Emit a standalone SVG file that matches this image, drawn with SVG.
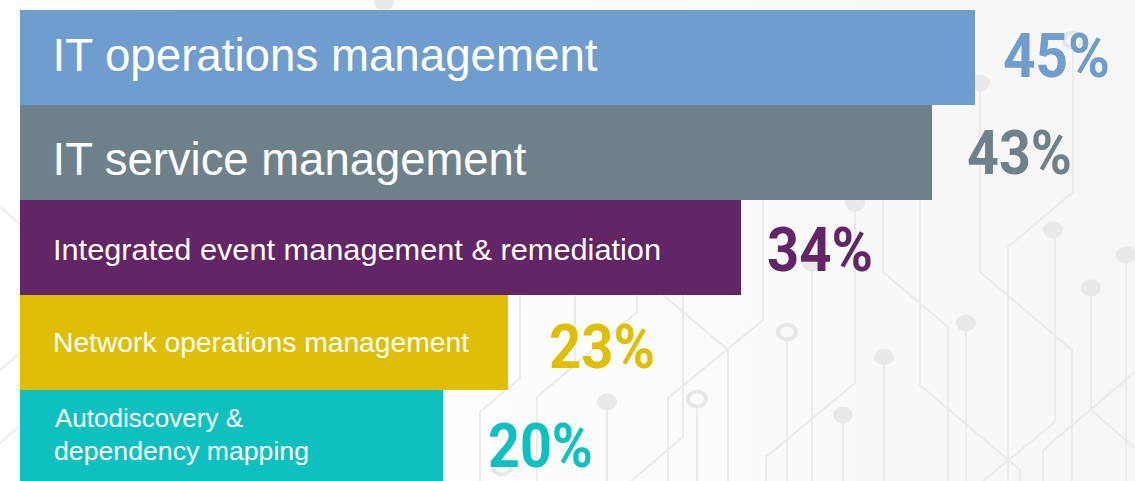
<svg xmlns="http://www.w3.org/2000/svg" width="1135" height="481" viewBox="0 0 1135 481">
  <defs>
    <linearGradient id="bgGrad" x1="0" y1="0" x2="1" y2="0">
      <stop offset="0" stop-color="#FFFFFF"/>
      <stop offset="0.5" stop-color="#FCFCFC"/>
      <stop offset="1" stop-color="#F6F6F6"/>
    </linearGradient>
  </defs>
  <style>
    .trace { fill: none; stroke: #EBEBEB; stroke-width: 2; }
    .dot { fill: #E9E9E9; }
    .ring { fill: none; stroke: #E7E7E7; stroke-width: 4; }
    .label { font-family: "Liberation Sans", Arial, sans-serif; fill: #FFFFFF; }
    .pct { font-family: Roboto, "Liberation Sans", Arial, sans-serif; font-weight: bold; font-size: 61px; }
  </style>

  <rect id="background" x="0" y="0" width="1135" height="481" fill="url(#bgGrad)"/>

  <g id="circuit">
    <path class="trace" d="M0,207 L20,224"/>
    <path class="trace" d="M0,370 L20,353"/>
    <path class="trace" d="M0,443 L20,426"/>
    <path class="trace" d="M520,295 V378 L480,412 V481"/>
    <path class="trace" d="M637,295 V312 L575,365"/>
    <path class="trace" d="M575,295 V365 L537,397 V481"/>
    <path class="trace" d="M663,295 L728,350 V481"/>
    <path class="trace" d="M683,295 V437 L631,481"/>
    <path class="trace" d="M763,200 V320 L668,398 V481"/>
    <path class="trace" d="M697,409 V481"/>
    <path class="trace" d="M607,410 V481"/>
    <path class="trace" d="M787,342 V481"/>
    <path class="trace" d="M812,270 V481"/>
    <path class="trace" d="M855,203 V383 L766,457 V481"/>
    <path class="trace" d="M843,423 V481"/>
    <path class="trace" d="M884,365 V481"/>
    <path class="trace" d="M883,200 V272 L948,327 V481"/>
    <path class="trace" d="M920,200 V385 L1020,470 V481"/>
    <path class="trace" d="M966,331 V481"/>
    <path class="trace" d="M980,91 V272 L1072,350 V481"/>
    <path class="trace" d="M1073,50 V192 L1008,247 V481"/>
    <path class="trace" d="M1055,238 V422 L983,481"/>
    <path class="trace" d="M1091,296 V410 L1135,448"/>
    <path class="trace" d="M1135,372 L1043,450 V481"/>
    <path class="trace" d="M1126,263 V481"/>
    <ellipse class="dot" cx="384" cy="2" rx="10" ry="8.5"/>
    <ellipse class="dot" cx="980" cy="83" rx="10" ry="8.5"/>
    <ellipse class="dot" cx="855" cy="203" rx="10" ry="8.5"/>
    <ellipse class="dot" cx="1053" cy="230" rx="10" ry="8.5"/>
    <ellipse class="dot" cx="1126" cy="255" rx="10" ry="8.5"/>
    <ellipse class="dot" cx="812" cy="263" rx="10" ry="8.5"/>
    <ellipse class="dot" cx="1091" cy="288" rx="10" ry="8.5"/>
    <ellipse class="dot" cx="966" cy="323" rx="10" ry="8.5"/>
    <ellipse class="dot" cx="884" cy="357" rx="10" ry="8.5"/>
    <ellipse class="dot" cx="607" cy="402" rx="10" ry="8.5"/>
    <ellipse class="dot" cx="843" cy="415" rx="10" ry="8.5"/>
    <ellipse class="ring" cx="1073" cy="40" rx="9" ry="7.5"/>
    <ellipse class="ring" cx="787" cy="332" rx="9" ry="7.5"/>
    <ellipse class="ring" cx="697" cy="399" rx="9" ry="7.5"/>
    <ellipse class="ring" cx="502" cy="467" rx="9" ry="7.5"/>
  </g>

  <g id="connectors"></g>

  <g id="bar-itom">
    <rect x="20" y="10" width="955" height="95" fill="#6F9DCD"/>
    <text class="label" x="52.5" y="71" font-size="46" textLength="545" lengthAdjust="spacingAndGlyphs">IT operations management</text>
    <text class="pct" x="1003" y="77" fill="#6F9DCD" textLength="107" lengthAdjust="spacingAndGlyphs">45%</text>
  </g>

  <g id="bar-itsm">
    <rect x="20" y="105" width="912" height="95" fill="#6E818B"/>
    <text class="label" x="52.5" y="175" font-size="46" textLength="474" lengthAdjust="spacingAndGlyphs">IT service management</text>
    <text class="pct" x="967" y="174" fill="#6E818B" textLength="105" lengthAdjust="spacingAndGlyphs">43%</text>
  </g>

  <g id="bar-event">
    <rect x="20" y="200" width="721" height="95" fill="#622666"/>
    <text class="label" x="53" y="260" font-size="30" textLength="608" lengthAdjust="spacingAndGlyphs">Integrated event management &amp; remediation</text>
    <text class="pct" x="767" y="271" fill="#622666" textLength="106" lengthAdjust="spacingAndGlyphs">34%</text>
  </g>

  <g id="bar-network">
    <rect x="20" y="295" width="488" height="95" fill="#DFBF05"/>
    <text class="label" x="53" y="352" font-size="27" textLength="416" lengthAdjust="spacingAndGlyphs">Network operations management</text>
    <text class="pct" x="549" y="368" fill="#DFBF05" textLength="106" lengthAdjust="spacingAndGlyphs">23%</text>
  </g>

  <g id="bar-autodiscovery">
    <rect x="20" y="390" width="423" height="91" fill="#0FC0C0"/>
    <text class="label" x="55" y="426.5" font-size="26" textLength="188" lengthAdjust="spacingAndGlyphs">Autodiscovery &amp;</text>
    <text class="label" x="54" y="460" font-size="26" textLength="255" lengthAdjust="spacingAndGlyphs">dependency mapping</text>
    <text class="pct" x="488" y="467" fill="#0FC0C0" textLength="105" lengthAdjust="spacingAndGlyphs">20%</text>
  </g>
</svg>
